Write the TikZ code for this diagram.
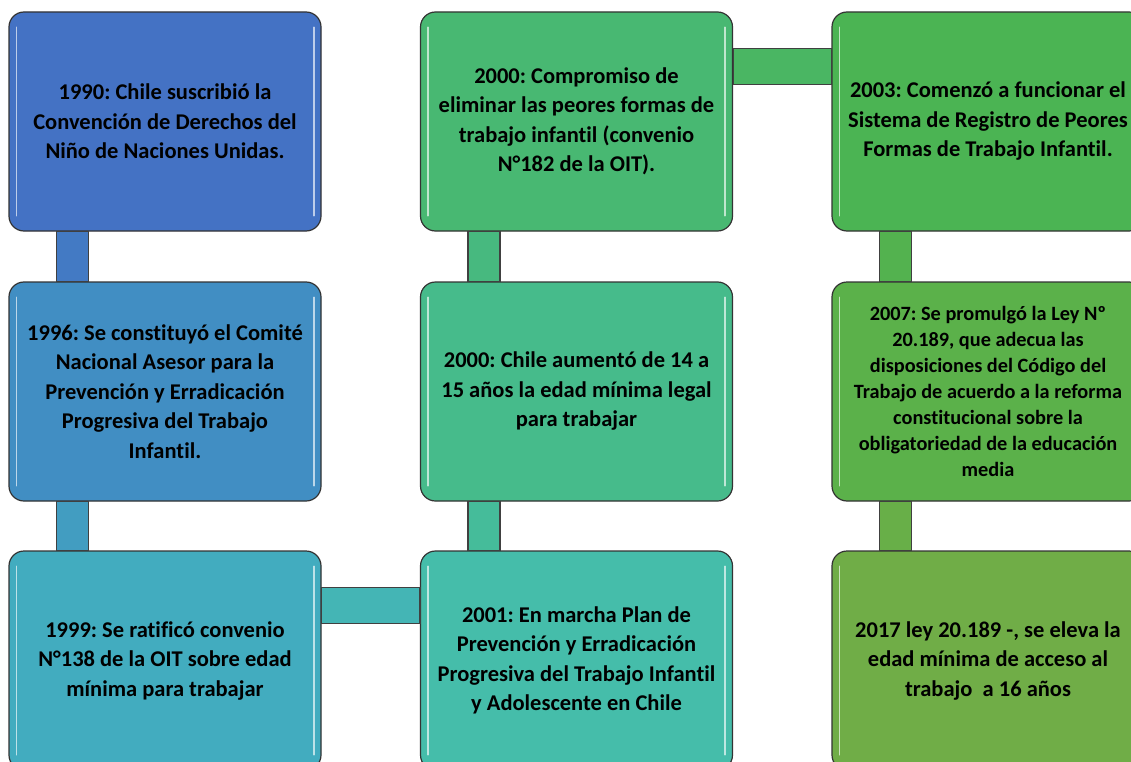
\documentclass[tikz,border=0pt]{standalone}
\usepackage{fontspec}
\setmainfont{Carlito}[Ligatures=NoCommon]
\usepackage{xcolor}
\usetikzlibrary{calc}
\frenchspacing

\definecolor{c1}{HTML}{4472C4}
\definecolor{c2}{HTML}{418EC3}
\definecolor{c3}{HTML}{42ACBF}
\definecolor{c4}{HTML}{45BDAA}
\definecolor{c5}{HTML}{46BB8B}
\definecolor{c6}{HTML}{48B872}
\definecolor{c7}{HTML}{4BB453}
\definecolor{c8}{HTML}{5BB14A}
\definecolor{c9}{HTML}{70AD47}

\tikzset{
    box/.style={draw=black!80, line width=1.2pt, rounded corners=15pt,
        minimum width=312pt, minimum height=219pt, align=center, inner sep=0pt,
        font=\bfseries\fontsize{22.5}{29.5}\selectfont},
    bigtext/.style={},
    smalltext/.style={font=\bfseries\fontsize{20.3}{26}\selectfont},
    bar/.style={draw=black!75, line width=1.2pt},
    gloss/.style={white, line width=1.8pt, line cap=round, opacity=0.65}
}

\begin{document}
\begin{tikzpicture}[x=1pt, y=-1pt]
    \path[use as bounding box] (0,0) rectangle (1131,762);
    \clip (0,0) rectangle (1131,762);
    % boxes
    \foreach \n/\x/\y/\col/\st/\txt in {
        1/165/121.5/c1/bigtext/{1990: Chile suscribió la\\Convención de Derechos del\\Niño de Naciones Unidas.},
        2/165/391.5/c2/bigtext/{1996: Se constituyó el Comité\\Nacional Asesor para la\\Prevención y Erradicación\\Progresiva del Trabajo\\Infantil.},
        3/165/660.5/c3/bigtext/{1999: Se ratificó convenio\\N°138 de la OIT sobre edad\\mínima para trabajar},
        4/576.5/660.5/c4/bigtext/{2001: En marcha Plan de\\Prevención y Erradicación\\Progresiva del Trabajo Infantil\\y Adolescente en Chile},
        5/576.5/391.5/c5/bigtext/{2000: Chile aumentó de 14 a\\15 años la edad mínima legal\\para trabajar},
        6/576.5/121.5/c6/bigtext/{2000: Compromiso de\\eliminar las peores formas de\\trabajo infantil (convenio\\N°182 de la OIT).},
        7/988/121.5/c7/bigtext/{2003: Comenzó a funcionar el\\Sistema de Registro de Peores\\Formas de Trabajo Infantil.},
        8/988/391.5/c8/smalltext/{2007: Se promulgó la Ley Nº\\20.189, que adecua las\\disposiciones del Código del\\Trabajo de acuerdo a la reforma\\constitucional sobre la\\obligatoriedad de la educación\\media},
        9/988/660.5/c9/bigtext/{2017 ley 20.189 -, se eleva la\\edad mínima de acceso al\\trabajo\ \ a 16 años}} {
        \node[box, \st, fill=\col] (b\n) at (\x,\y) {\txt};
        \draw[gloss] ($(b\n.north west)+(8,16)$) -- ($(b\n.south west)+(8,-16)$);
        \draw[gloss] ($(b\n.north east)+(-8,16)$) -- ($(b\n.south east)+(-8,-16)$);
    }
    % connectors
    \foreach \a/\b/\col in {b1/b2/c1!70!c2, b2/b3/c2!50!c3, b5/b4/c4!50!c5, b6/b5/c5!50!c6, b7/b8/c7!50!c8, b8/b9/c8!40!c9} {
        \draw[bar, fill=\col] ($(\a.south west)+(48,0)$) rectangle ($(\b.north west)+(80,0)$);
    }
    \foreach \a/\b/\col in {b3/b4/c3!50!c4, b6/b7/c6!50!c7} {
        \draw[bar, fill=\col] ($(\a.north east)+(0,37)$) rectangle ($(\b.north west)+(0,73)$);
    }
\end{tikzpicture}
\end{document}
